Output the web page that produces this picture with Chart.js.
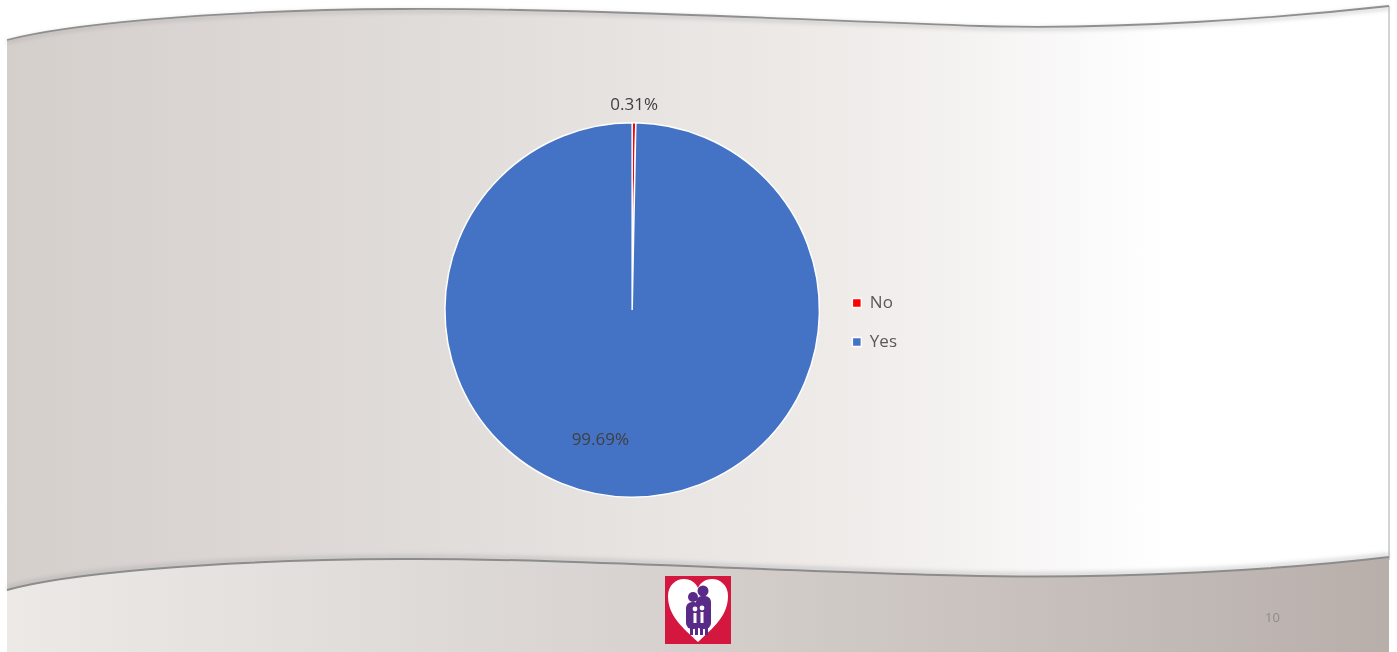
<!DOCTYPE html>
<html>
<head>
<meta charset="utf-8">
<script src="https://cdn.jsdelivr.net/npm/chart.js@4/dist/chart.umd.min.js"></script>
<style>
  html, body { margin: 0; padding: 0; background: #fff; }
  body { width: 1397px; height: 652px; position: relative; overflow: hidden; font-family: "Open Sans", sans-serif; }
  #bg, #pie { position: absolute; left: 0; top: 0; }
  #pageNo { position: absolute; left: 1265px; top: 608px; font-size: 13px; color: #8c8c8c; }
</style>
</head>
<body>
<svg id="bg" width="1397" height="652" viewBox="0 0 1397 652">
  <defs>
    <linearGradient id="mainFill" x1="0" x2="1" y1="0" y2="0">
      <stop offset="0" stop-color="#d5cfcc"/>
      <stop offset="0.35" stop-color="#e2dedc"/>
      <stop offset="0.6" stop-color="#eeebe9"/>
      <stop offset="0.78" stop-color="#fbfafa"/>
      <stop offset="0.84" stop-color="#ffffff"/>
    </linearGradient>
    <linearGradient id="footFill" x1="0" x2="1" y1="0" y2="0">
      <stop offset="0" stop-color="#ece9e7"/>
      <stop offset="0.45" stop-color="#d8d3d0"/>
      <stop offset="1" stop-color="#b8afab"/>
    </linearGradient>
    <filter id="soft" x="-5%" y="-50%" width="110%" height="200%"><feGaussianBlur stdDeviation="2"/></filter>
  </defs>
  <!-- slide body -->
  <rect x="7" y="0" width="1382" height="652" fill="url(#mainFill)"/>
  <line x1="1389" y1="6" x2="1389" y2="560" stroke="#c4c4c4" stroke-width="1.5"/>
  <!-- white strip above the top wave -->
  <path d="M7,40 C60,26 200,10 401,9 C560,8 760,18 980,26 C1120,30 1280,18 1389,6 L1397,6 L1397,0 L0,0 L0,40 Z" fill="#ffffff"/>
  <path d="M7,42 C60,28 200,12 401,11 C560,10 760,20 980,28 C1120,32 1280,20 1389,8" fill="none" stroke="#9a9a9a" stroke-width="3" opacity="0.45" filter="url(#soft)"/>
  <path d="M7,40 C60,26 200,10 401,9 C560,8 760,18 980,26 C1120,30 1280,18 1389,6" fill="none" stroke="#8f8f8f" stroke-width="1.8"/>
  <!-- footer band below the bottom wave -->
  <path d="M7,588 C60,573 200,558 401,557 C560,556 780,570 980,574 C1120,577 1280,568 1389,555" fill="none" stroke="#9a9a9a" stroke-width="4" opacity="0.4" filter="url(#soft)"/>
  <path d="M7,590 C60,575 200,560 401,559 C560,558 780,572 980,576 C1120,579 1280,570 1389,557 L1389,652 L7,652 Z" fill="url(#footFill)"/>
  <path d="M7,590 C60,575 200,560 401,559 C560,558 780,572 980,576 C1120,579 1280,570 1389,557" fill="none" stroke="#8c8c8c" stroke-width="2"/>
  <!-- logo -->
  <g transform="translate(665,576)">
    <rect x="0" y="0" width="66" height="68" fill="#d4173f"/>
    <path d="M33,66 C18,52 3,40 3,20 C3,9 11,3 19,3 C26,3 31,7 33,12 C35,7 40,3 47,3 C55,3 63,9 63,20 C63,40 48,52 33,66 Z" fill="#ffffff"/>
    <circle cx="38" cy="15" r="5.5" fill="#5a2a88"/>
    <circle cx="28" cy="21" r="5" fill="#5a2a88"/>
    <rect x="31" y="20" width="15" height="33" rx="6" fill="#5a2a88"/>
    <rect x="21" y="26" width="14" height="27" rx="6" fill="#5a2a88"/>
    <circle cx="30" cy="33" r="2.4" fill="#ffffff"/>
    <circle cx="37" cy="32" r="2.4" fill="#ffffff"/>
    <rect x="28.5" y="37" width="3" height="10" fill="#ffffff"/>
    <rect x="35.5" y="36" width="3" height="11" fill="#ffffff"/>
    <rect x="25" y="50" width="3" height="9" fill="#5a2a88"/>
    <rect x="30" y="50" width="3" height="9" fill="#5a2a88"/>
    <rect x="35" y="50" width="3" height="9" fill="#5a2a88"/>
    <rect x="40" y="50" width="3" height="9" fill="#5a2a88"/>
  </g>
</svg>
<canvas id="pie" width="1397" height="652"></canvas>
<div id="pageNo">10</div>

<script>
const categories = ['No', 'Yes'];
const shares = [0.31, 99.69];
const sliceColors = ['#FF0000', '#4472C4'];

// where each percentage sits: outside the rim, or inside at a fraction of the radius
const labelPlace = [
  { turn: 0, outside: 17.5 },
  { turn: 13.2, frac: 0.715 }
];

const sliceLabels = {
  id: 'sliceLabels',
  afterDatasetsDraw(chart) {
    const ctx = chart.ctx;
    const meta = chart.getDatasetMeta(0);
    ctx.save();
    ctx.font = '17px "Open Sans"';
    ctx.fillStyle = '#404040';
    ctx.textAlign = 'center';
    ctx.textBaseline = 'middle';
    meta.data.forEach((arc, i) => {
      const p = arc.getProps(['x', 'y', 'startAngle', 'endAngle', 'outerRadius'], true);
      const place = labelPlace[i];
      const ang = (p.startAngle + p.endAngle) / 2 + place.turn * Math.PI / 180;
      const r = place.outside ? p.outerRadius + place.outside : p.outerRadius * place.frac;
      ctx.fillText(shares[i].toFixed(2) + '%', p.x + Math.cos(ang) * r, p.y + Math.sin(ang) * r);
    });
    ctx.restore();
  }
};

new Chart(document.getElementById('pie'), {
  type: 'pie',
  data: {
    labels: categories,
    datasets: [{
      data: shares,
      backgroundColor: sliceColors,
      borderColor: '#ffffff',
      borderWidth: 1.5
    }]
  },
  options: {
    responsive: false,
    animation: false,
    layout: { padding: { left: 434, right: 490, top: 122, bottom: 154 } },
    plugins: {
      tooltip: { enabled: false },
      legend: {
        position: 'right',
        align: 'center',
        title: { display: true, text: '', font: { size: 1 }, padding: { top: 24, bottom: 0 } },
        labels: {
          boxWidth: 9,
          boxHeight: 9,
          padding: 22,
          color: '#595959',
          font: { family: '"Open Sans"', size: 17 }
        }
      }
    }
  },
  plugins: [sliceLabels]
});
</script>
</body>
</html>
